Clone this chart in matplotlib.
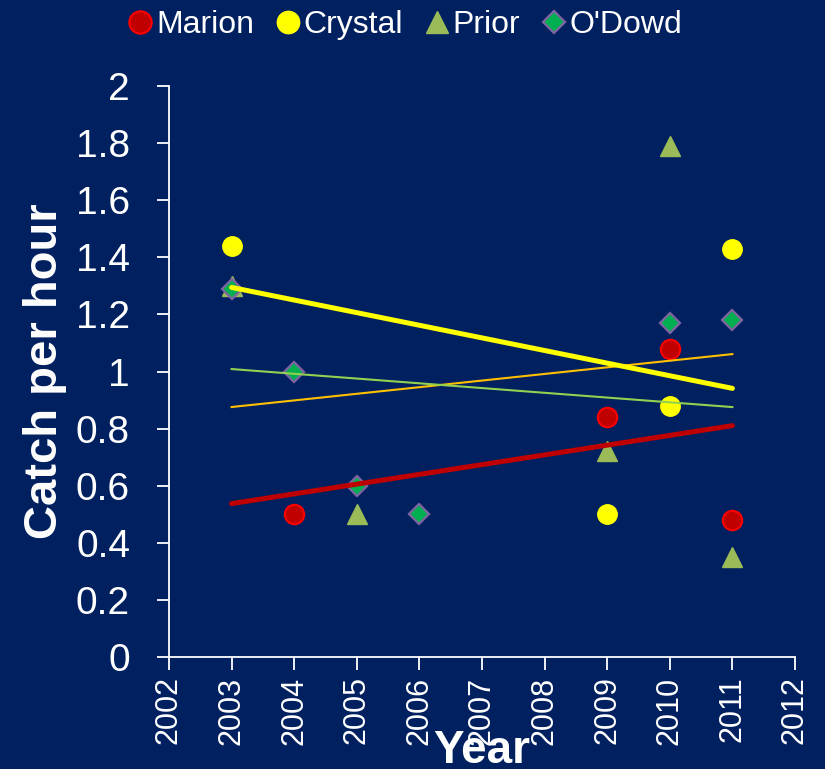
import numpy as np
import matplotlib
matplotlib.use("Agg")
import matplotlib.pyplot as plt

plt.rcParams['font.family'] = ['Liberation Sans', 'DejaVu Sans']

BG = '#002060'

marion_x = [2004, 2009, 2010, 2011]
marion_y = [0.50, 0.84, 1.08, 0.48]
crystal_x = [2003, 2009, 2010, 2011]
crystal_y = [1.44, 0.50, 0.88, 1.43]
prior_x = [2003, 2005, 2009, 2010, 2011]
prior_y = [1.30, 0.50, 0.72, 1.79, 0.35]
odowd_x = [2003, 2004, 2005, 2006, 2010, 2011]
odowd_y = [1.29, 1.00, 0.60, 0.50, 1.17, 1.18]

x_ticks = list(range(2002, 2013))
y_ticks = [0, 0.2, 0.4, 0.6, 0.8, 1, 1.2, 1.4, 1.6, 1.8, 2]
y_tick_labels = ['0', '0.2', '0.4', '0.6', '0.8', '1', '1.2', '1.4', '1.6', '1.8', '2']
trend_range = [2003, 2011]

fig = plt.figure(figsize=(8.25, 7.69), dpi=100, facecolor=BG)
ax = fig.add_axes([169/825, 1-657/769, (795-169)/825, (657-86)/769])
ax.set_facecolor(BG)

ms = 14
ax.plot(prior_x, prior_y, linestyle='none', marker='^', ms=ms, mfc='#9BBB59', mec='#9BBB59', zorder=3, label='Prior')
ax.plot(odowd_x, odowd_y, linestyle='none', marker='D', ms=ms*0.72, mfc='#00B050', mec='#8064A2', mew=1.6, zorder=4, label="O'Dowd")
ax.plot(crystal_x, crystal_y, linestyle='none', marker='o', ms=ms, mfc='#FFFF00', mec='#FFFF00', zorder=4, label='Crystal')
ax.plot(marion_x, marion_y, linestyle='none', marker='o', ms=ms, mfc='#C00000', mec='#FF0000', mew=1.5, zorder=4, label='Marion')

def trend(xs, ys):
    p = np.polyfit(xs, ys, 1)
    xr = np.array(trend_range, dtype=float)
    return xr, np.polyval(p, xr)

xr, yr = trend(odowd_x, odowd_y)
ax.plot(xr, yr, color='#FFC000', lw=1.5, zorder=5)
xr, yr = trend(prior_x, prior_y)
ax.plot(xr, yr, color='#92D050', lw=1.5, zorder=5)
xr, yr = trend(marion_x, marion_y)
ax.plot(xr, yr, color='#C00000', lw=3.6, zorder=6, solid_capstyle='round')
xr, yr = trend(crystal_x, crystal_y)
ax.plot(xr, yr, color='#FFFF00', lw=3.6, zorder=6, solid_capstyle='round')

ax.set_xlim(2002, 2012)
ax.set_ylim(0, 2)
ax.set_xticks(x_ticks)
ax.set_xticklabels([str(x) for x in x_ticks], rotation=90, fontsize=22, color='white')
ax.set_yticks(y_ticks)
ax.set_yticklabels(y_tick_labels, fontsize=28, color='white')
ax.tick_params(axis='both', colors='white', length=9, width=1.3, direction='out')
ax.tick_params(axis='y', pad=19)
ax.tick_params(axis='x', pad=5)
for s in ['top', 'right']:
    ax.spines[s].set_visible(False)
for s in ['left', 'bottom']:
    ax.spines[s].set_color('white')
    ax.spines[s].set_linewidth(1.3)

fig.text(45/825, (1-657/769 + 1-86/769)/2, 'Catch per hour', rotation=90, ha='center', va='center',
         fontsize=34, fontweight='bold', color='white')
fig.text(482/825, (769-763)/769, 'Year', ha='center', va='baseline', fontsize=33, fontweight='bold', color='white')

handles, labels = ax.get_legend_handles_labels()
order = [3, 2, 0, 1]
leg = fig.legend([handles[i] for i in order], [labels[i] for i in order], loc='center',
                 bbox_to_anchor=(405/825, 1-25/769), ncol=4, frameon=False, fontsize=23,
                 handlelength=0.8, handletextpad=0.1, columnspacing=0.65, labelcolor='white',
                 markerscale=1.15)

fig.savefig('out.png', dpi=100, facecolor=BG)
